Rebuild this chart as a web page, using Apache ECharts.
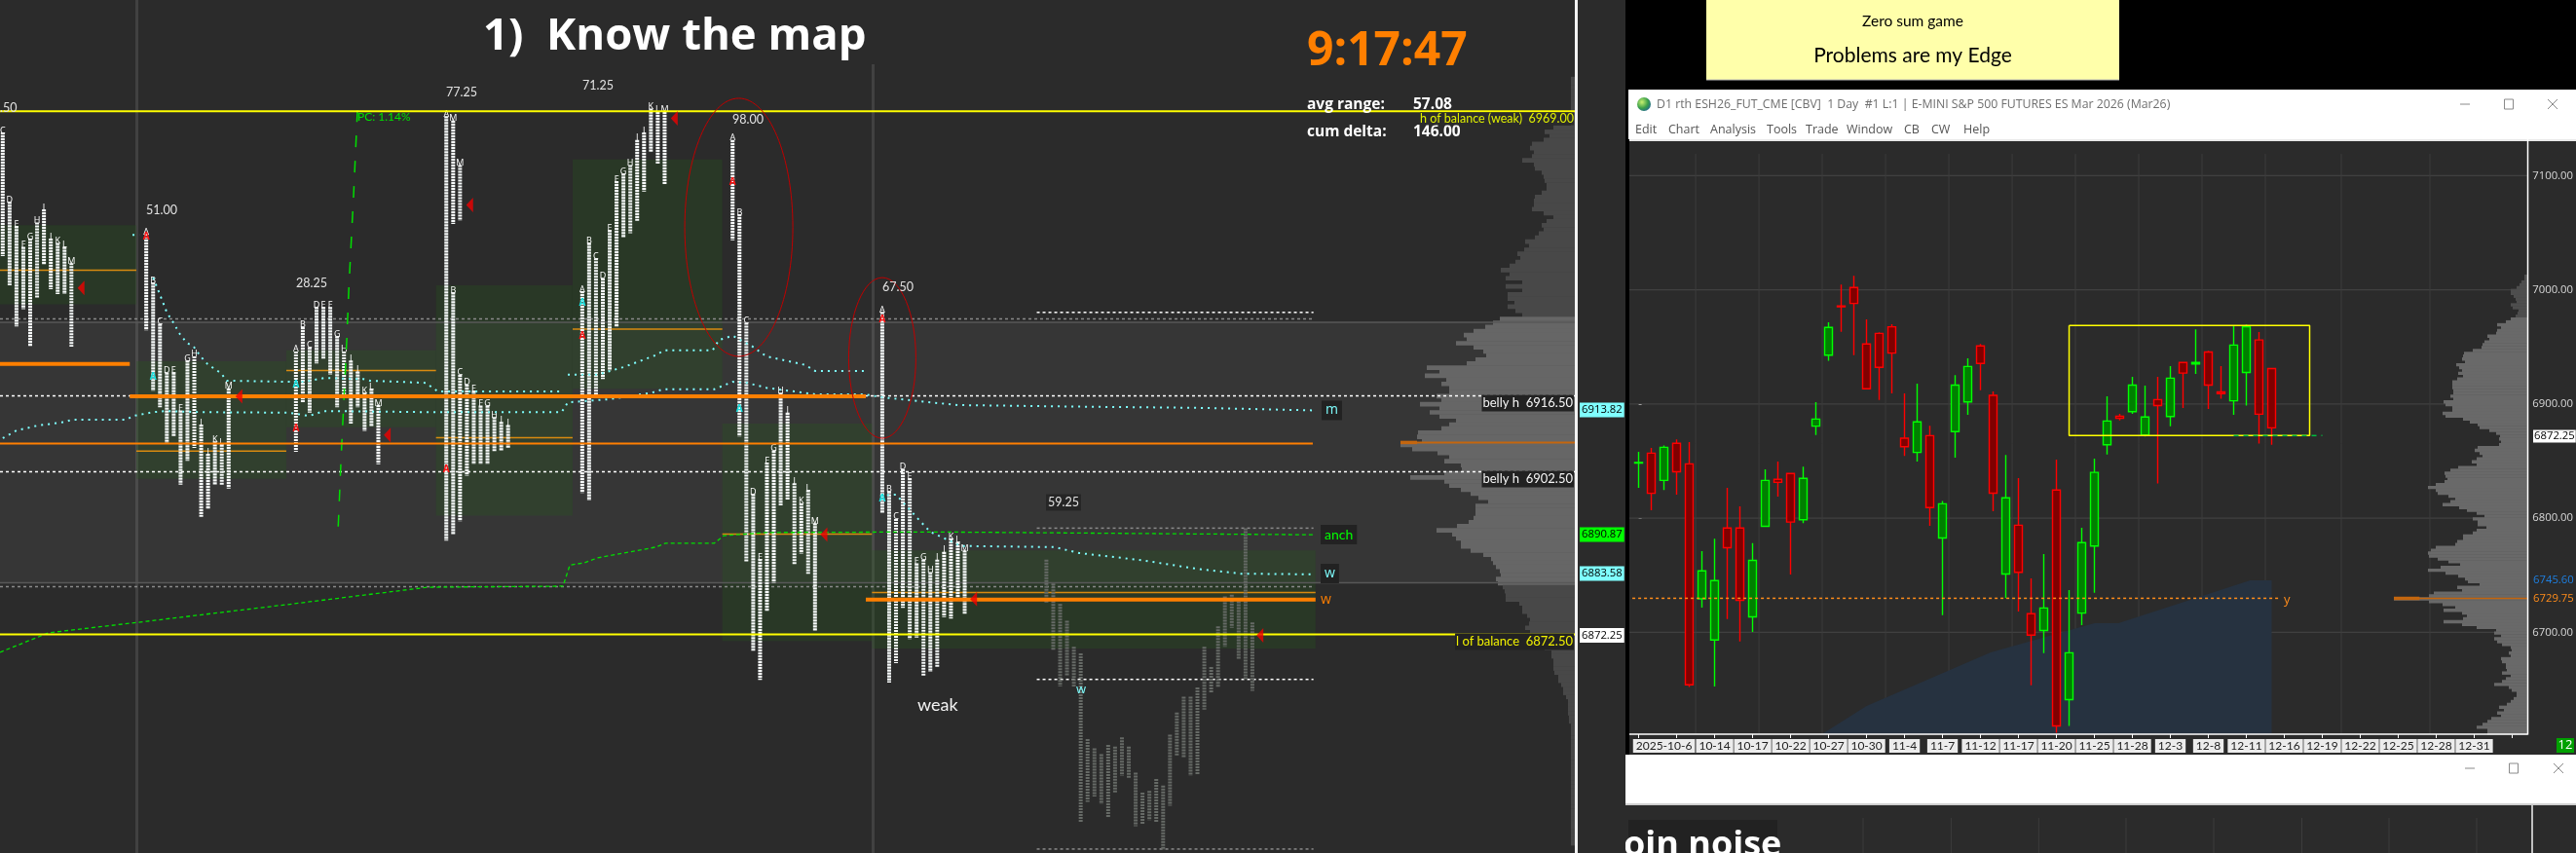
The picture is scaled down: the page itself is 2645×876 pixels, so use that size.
<!DOCTYPE html>
<html><head><meta charset="utf-8">
<style>html,body{margin:0;padding:0;background:#2b2b2b;overflow:hidden}#c{width:2645px;height:876px}</style>
<script src="https://cdn.jsdelivr.net/npm/echarts@6/dist/echarts.min.js"></script>
</head><body><div id="c"></div>
<script>
/* ---------- daily chart data ---------- */
const dateLabels=['2025-10-6','10-14','10-17','10-22','10-27','10-30','11-4','11-7','11-12','11-17','11-20','11-25','11-28','12-3','12-8','12-11','12-16','12-19','12-22','12-25','12-28','12-31'];
const dateLabelBars=[2,6,9,12,15,18,21,24,27,30,33,36,39,42,45,48,51,54,57,60,63,66];
const dailyOHLC=[ // open, close, low, high
[6848.1,6848.7,6826.5,6858],[6856.9,6821.7,6806.9,6861.5],[6833,6862,6824.5,6863.5],[6865.5,6840.5,6820.5,6869],
[6847.5,6654,6652,6866.5],[6729.25,6753.75,6721.5,6771],[6693.25,6745.25,6652.5,6782],[6791.25,6774,6711.5,6826.5],
[6791.25,6728,6692,6810.25],[6713.5,6763,6700.25,6778],[6792.75,6833,6792.75,6842.75],[6834,6831.25,6818.75,6849.5],
[6839,6796.5,6750.5,6839],[6798.5,6834.75,6795.5,6845],[6880.5,6886.75,6872.75,6901.5],[6942.75,6967,6937.75,6971.5],
[6985.75,6985,6963.25,7004.5],[7002,6988,6942.75,7012.25],[6952.5,6913.25,6913.25,6974],[6961.75,6932,6903.5,6962.75],
[6967.5,6944.5,6909.25,6969.75],[6870,6862.5,6854.5,6909.25],[6857.5,6884.25,6849.5,6917.75],[6872.25,6809.25,6793.25,6880.75],
[6782.5,6812.5,6715,6815],[6875.75,6916.5,6853,6925.25],[6901.75,6932.75,6890.5,6940],[6950.75,6935.5,6912,6952.5],
[6907.5,6821.75,6806,6911],[6751,6817.75,6730,6855.25],[6793.75,6752.5,6718.25,6835],[6716.25,6697.5,6653.5,6747.25],
[6701.5,6721.25,6681.75,6768.5],[6824.5,6618,6612,6851.25],[6641,6682,6618,6737],[6716.75,6778.5,6706.25,6791.5],
[6775.5,6840,6734.5,6852],[6864.25,6885,6855.75,6906.75],[6889.25,6887.5,6885.5,6891.25],[6893.25,6916.5,6891.25,6923.75],
[6872.75,6888.5,6871.5,6916],[6903.75,6898.5,6830.25,6923.75],[6889,6922.5,6880.5,6933],[6936.25,6927,6896.5,6936.25],
[6935,6936.25,6926.25,6965.25],[6945.5,6916.5,6895.5,6946.5],[6910.5,6909,6904.5,6933],[6902.75,6951.5,6890.5,6968],
[6927.5,6967.5,6898.5,6969.5],[6956,6891,6865.25,6963],[6931,6879,6864.25,6931.5]];
const dailyPriceTicks=[6700,6800,6900,7000,7100];
const dailyGridBars=[4.5,9.5,14.5,19.5,24.5,29.5,34.5,39.5,44.5,49.5,55.5,62.5];
const dailyAreaPts=[[14.5,6611],[18,6635.4],[27.8,6682.4],[36,6707.9],[37.9,6707.9],[48.3,6745.5],[50,6745.5],[50,6611]];
const balanceBoxPts=[[34,6968.75],[53,6968.75],[53,6872.25],[34,6872.25],[34,6968.75]];
const dailyProfileTop=7012, dailyProfileStep=2.5;
const dailyProfile=[3,3,6,8,11,17,17,14,12,11,17,15,9,10,12,17,22,31,27,31,32,41,39,44,46,47,56,65,66,67,64,73,70,67,71,66,72,77,77,77,76,76,79,76,86,84,77,77,87,84,66,59,51,49,39,32,28,29,27,29,51,54,49,46,52,57,52,71,79,85,84,82,85,94,102,94,92,81,
74,79,87,70,62,52,44,56,51,51,42,52,56,66,66,72,74,94,99,102,101,92,81,69,89,102,84,71,64,61,49,72,67,96,101,137,101,87,74,86,67,62,66,86,67,52,32,34,27,34,31,26,17,16,19,17,27,26,22,22,21,26,17,22,26,34,19,16,11,11,14,17,21,29,24,31,27,37,41,46,52,41,41];

/* ---------- intraday market-profile data (price per column) ---------- */
const sessionStarts=[0.4,21.3,43.1,65,84.8,106.7,128.5,152.4];
const s1Cols=[[6942.3,6965.1],[6936.9,6952.3],[6929.3,6947.8],[6932.5,6944],[6925.6,6945.5],[6934.6,6948.5],[6940.7,6950.9],[6936.2,6945.5],[6935.3,6944.7],[6935.3,6944],[6925.6,6941]];
const s2Cols=[[6928.6,6946.4],[6917.4,6937.4],[6914.4,6929.8],[6907.8,6920.8],[6909,6920.8],[6900.1,6913.8],[6904.5,6923],[6906.9,6923.8],[6894.2,6911.2],[6895.6,6905.8],[6900.1,6908.1],[6900.1,6907.5],[6899.4,6917.9]];
const s3Cols=[[6906.2,6924.7],[6915.3,6929.2],[6913.4,6925.5],[6922.5,6932.9],[6923.4,6932.9],[6920.4,6932.9],[6914.4,6927.5],[6916.5,6924.7],[6911.4,6923],[6914.4,6921],[6910,6917.1],[6910.8,6917.8],[6903.9,6914.8]];
const s4Cols=[[6889.8,6968.1],[6891,6935.6],[6893.4,6920.4],[6901.8,6918.6],[6903.9,6917.4],[6903.9,6914.7],[6903.9,6914.7],[6906.3,6912.6],[6906.3,6911.7],[6906.9,6911.1]];
const s4Upper=[[1,6948.2,6967.3],[2,6948.8,6959.1]];
const s5Cols=[[6898.6,6935.8],[6897.2,6944.7],[6916.6,6941.9],[6919.6,6938.2],[6921.2,6947.1],[6929.3,6956.1],[6945.8,6957.5],[6946.5,6959.1],[6948.8,6963.7],[6954.2,6965.1],[6961.5,6969.5],[6959.3,6968.9],[6955.5,6968.9]];
const s6Cols=[[6945.2,6963.7],[6909,6950],[6885.9,6930],[6869.5,6898.4],[6864.1,6886.4],[6876.7,6904.2],[6882,6906.4],[6896.3,6917.1],[6897.3,6913.4],[6885.3,6900.4],[6887.4,6896.7],[6883.7,6899.1],[6873.1,6893]];
const s7Cols=[[6894.8,6932],[6863.6,6898.9],[6867.2,6893.8],[6877.4,6903],[6871.6,6901.3],[6871.9,6885.6],[6864.9,6886.3],[6865.6,6884],[6866.5,6886.3],[6875.7,6887.7],[6875.4,6890.2],[6879.1,6889.5],[6876.3,6888]];
const s8Cols=[[6878.4,6886.3],[6869.6,6881.9],[6862.9,6878.1],[6864.8,6875],[6862.9,6870.2],[6837.9,6869],[6841.6,6853.2],[6842.6,6851.5],[6841.2,6850.4],[6838.8,6852.1],[6843.3,6851.8],[6846.4,6853.5],[6846,6851.8],[6837.1,6847],[6837.5,6843.3],[6838.2,6843.6],[6837.8,6845.8],[6832.7,6844.6],[6840.9,6854],[6850.1,6858.1],[6849.8,6861],[6846.4,6861],[6846.7,6862.7],[6858.6,6870.2],[6861.7,6866.5],[6862.7,6874],[6870.2,6879.5],[6873.7,6879.8],[6867.9,6878.6],[6864.1,6892.1],[6862.1,6874.7]];
const leftProfileTop=6975, leftProfileStep=0.75;
const leftProfile=[4,4,4,4,4,4,4,4,4,4,4,4,22,31,26,32,44,46,42,44,54,42,41,34,32,31,29,29,34,41,42,42,44,32,22,29,34,32,37,41,51,47,52,59,56,61,67,76,67,71,54,71,54,69,69,62,69,61,54,
77,84,92,104,114,111,122,104,94,91,102,111,152,139,154,132,137,129,129,142,137,159,139,149,139,122,129,137,161,162,157,179,167,141,129,134,117,116,134,169,
134,129,117,107,99,89,102,102,102,104,109,121,142,126,122,117,117,107,94,86,84,81,77,76,81,79,74,72,71,71,57,54,54,49,46,47,51,46,41,36,31,31,24,24,22,22,22,21,17,17,14,12,12,9,7,7,7,7,6,6,4,4,4,4,4,4,4,4,4,4,4,4,4,4,4,4,4,4,4,4,4,4,4,4,4,4,4,4,4,4];
const valueBand=[[0,229.4,6882,6930.08]];
const sessionBoxes=[[0,19.86,6933.4,6948],[19.86,41.7,6901.2,6922.9],[41.7,63.5,6910.7,6924.9],[63.5,83.4,6894.4,6936.9],[83.4,105.2,6917.8,6960.1],[105.2,127,6871.3,6911.4],[127,191.6,6869.9,6888]];
const sessionPOC=[[0,19.86,6939.7],[19.86,41.7,6906.3],[41.7,63.5,6921.2],[63.5,83.4,6908.8],[83.4,105.2,6928.8],[105.2,127,6891],[127,191.6,6880.2]];
const thickOrange=[[0,18.9,6922.4],[18.9,126.1,6916.4],[126.1,191.6,6878.9]];
const thinOrange=[[0,191.2,6907.7]];
const yellowLevels=[[0,229.4,6969],[0,229.4,6872.5]];
const bellyLevels=[[0,229.4,6916.5],[0,229.4,6902.5],[151,191.3,6931.9],[151,191.3,6864.2]];
const greyDashLevels=[[0,191.2,6930.7],[0,191.2,6881.3],[151,191.3,6892.1],[151,191.3,6832.9]];
const vwapLower=[[0.4,6908.7],[2.4,6910.1],[5.4,6911],[9.5,6911.7],[10.4,6912.1],[18.4,6912.1],[19.4,6912.8],[22.3,6913.5],[24.1,6913.7],[29.4,6913.5],[42.1,6913.4],[45,6912.8],[47.2,6913.7],[62.8,6913.5],[81.8,6913.5],[82.7,6915.3],[88.9,6915.9],[95,6917.1],[96.5,6917.7],[104,6917.7],[106.7,6919.1],[108.8,6918.9],[111.6,6918],[118.7,6916.8],[125.8,6916.8],[128.7,6916.2],[135.5,6915.3],[139.6,6914.8],[158.1,6914.5],[174.3,6914.3],[191.5,6913.82]];
const vwapUpperA=[[19.3,6946.2],[20.3,6946.2]];
const vwapUpperB=[[22.3,6938.3],[23.1,6935.8],[24.3,6931.9],[25.2,6930.1],[26.2,6927.9],[27.2,6926.3],[28.2,6925.6],[29.2,6923.8],[30.2,6922.4],[31.2,6921.5],[32.2,6920.7],[33,6919.3],[42.1,6919.1],[44.3,6919.1],[47.2,6919.8],[52.9,6919.6],[53.9,6919.3],[62,6918.9],[63.8,6917.3],[82,6917.3]];
const vwapUpperC=[[82.7,6920.4],[87,6920.4],[90.8,6921.8],[95.5,6924],[96.7,6924.9],[103.8,6924.9],[104.7,6926.8],[106.7,6927.6],[109.6,6925.6],[111.6,6923.8],[117.3,6922.2],[118.7,6921.1],[125.8,6921.1]];
const weeklyVwap=[[128.2,6898.1],[130.5,6898.3],[133.5,6894.1],[135.5,6891.4],[140,6888.8],[153.6,6888.6],[157.2,6887.5],[166.2,6886.2],[174.3,6884.6],[180.7,6883.7],[191.5,6883.58]];
const anchoredVwap=[[0,6869.2],[7.1,6872.8],[21.3,6874.9],[41.8,6878],[62.3,6881.2],[82,6881.4],[83,6885.3],[85.1,6885.7],[87,6886.6],[95.5,6888.6],[96.9,6889.3],[104,6889.3],[105.4,6890.7],[111.6,6891.3],[136.2,6891.4],[191.5,6890.87]];
const pcLine=[[52.06,6969.2],[51.5,6953.6],[50.8,6936.2],[50.5,6926.7],[49.7,6905.6],[49.2,6890.7]];
const closeMarks=[[11.8,6936.4],[34.8,6916.4],[56.4,6909.3],[68.4,6951.7],[98.2,6967.7],[120,6890.9],[141.8,6879],[183.5,6872.3]];
const openMarks=[[21.3,6945.8],[43.1,6910.4],[65,6903],[84.8,6927.6],[106.7,6956],[128.5,6930.6]];
const midMarks=[[22.3,6920],[43.1,6918.6],[84.8,6933.7],[107.7,6914.1],[128.5,6897.6]];
const ellipses=[[107.6,6947.6,7.87,23.8],[128.5,6923.5,4.89,14.82]];

/* ---------- layout ---------- */
const W=1617, SLOT=7.05;
const LEFT_MIN=6832.17, LEFT_MAX=6989.53;
const D_MIN=6600, D_MAX=7200, D_TOP=63.05, D_H=703.5, BAR=13, D_LEFT=1676.1;
const bg='#2b2b2b';
const FONT='"Open Sans","Noto Sans",sans-serif';
const NARROW='Lato,"Open Sans",sans-serif';

const LETTERS='ABCDEFGHIJKLM';
function flatten(cols,start,first,kind){return cols.map((c,i)=>[start+i,c[0],c[1],first<0?'':LETTERS[first+i]||'',kind]);}
const tpoMain=[].concat(
  flatten(s1Cols,sessionStarts[0],2,0),flatten(s2Cols,sessionStarts[1],0,0),flatten(s3Cols,sessionStarts[2],0,0),
  flatten(s4Cols,sessionStarts[3],0,0),s4Upper.map(u=>[sessionStarts[3]+u[0],u[1],u[2],'M',0]),
  flatten(s5Cols,sessionStarts[4],0,0),flatten(s6Cols,sessionStarts[5],0,0),flatten(s7Cols,sessionStarts[6],0,0));
const tpoFaded=flatten(s8Cols,sessionStarts[7],-1,1);

function seg(name,data,xi,yi,style,z){
  return {type:'custom',name,xAxisIndex:xi,yAxisIndex:yi,z:z||3,silent:true,clip:true,data,
    renderItem(p,api){const a=api.coord([api.value(0),api.value(2)]),b=api.coord([api.value(1),api.value(2)]);
      return {type:'line',shape:{x1:a[0],y1:a[1],x2:b[0],y2:b[1]},style:Object.assign({fill:null},style)};}};
}
function rects(name,data,color,z){
  return {type:'custom',name,xAxisIndex:0,yAxisIndex:0,z:z||1,silent:true,data,
    renderItem(p,api){const a=api.coord([api.value(0),api.value(3)]),b=api.coord([api.value(1),api.value(2)]);
      return {type:'rect',shape:{x:a[0],y:a[1],width:b[0]-a[0],height:b[1]-a[1]},style:{fill:color}};}};
}
function tpoSeries(name,list,color,width,dash,textColor){
  return {type:'custom',name,xAxisIndex:0,yAxisIndex:0,z:5,silent:true,data:list.map(d=>[d[0],d[1],d[2]]),
    renderItem(p,api){const d=list[p.dataIndex],a=api.coord([d[0],d[2]]),b=api.coord([d[0],d[1]]);
      const kids=[{type:'line',shape:{x1:a[0],y1:a[1],x2:b[0],y2:b[1]},style:{stroke:color,lineWidth:width,lineDash:dash,fill:null}}];
      if(d[3])kids.push({type:'text',x:a[0],y:a[1]-2,style:{text:d[3],fill:textColor,font:'9px '+FONT,textAlign:'center',textVerticalAlign:'middle'}});
      return {type:'group',children:kids};}};
}
function dotted(name,data,color,width,dash){
  return {type:'line',name,xAxisIndex:0,yAxisIndex:0,data,z:6,silent:true,showSymbol:false,symbol:'none',
    lineStyle:{color,width,type:dash,cap:'butt'}};
}
function textMarks(name,data,text,color){
  return {type:'custom',name,xAxisIndex:0,yAxisIndex:0,z:7,silent:true,data,
    renderItem(p,api){const a=api.coord([api.value(0),api.value(1)]);
      return {type:'text',x:a[0],y:a[1],style:{text,fill:color,font:'bold 10px '+FONT,textAlign:'center',textVerticalAlign:'middle'}};}};
}
function profile(name,list,top,step,xi,yi,loLight,hiLight,dark,light){
  const rows=list.map((w,i)=>[w,top-step*i]);
  return {type:'custom',name,xAxisIndex:xi,yAxisIndex:yi,z:2,silent:true,data:rows,
    renderItem(p,api){const w=api.value(0),pr=api.value(1);
      const a=api.coord([w,pr+step/2]),b=api.coord([0,pr-step/2]);
      return {type:'rect',shape:{x:a[0],y:a[1],width:b[0]-a[0],height:b[1]-a[1]+0.5},
        style:{fill:(pr<=hiLight&&pr>=loLight)?light:dark}};}};
}

/* ---------- fixed screen furniture and text ---------- */
const els=[];
function R(x,y,w,h,fill,z){els.push({type:'rect',silent:true,z:z==null?-50:z,shape:{x,y,width:w,height:h},style:{fill}});}
function L(x1,y1,x2,y2,stroke,lw,z){els.push({type:'line',silent:true,z:z==null?60:z,shape:{x1,y1,x2,y2},style:{stroke,lineWidth:lw||1}});}
function T(text,x,y,size,fill,o){o=o||{};els.push({type:'text',silent:true,z:o.z||70,x,y,style:Object.assign({text,fill,font:(o.weight||'normal')+' '+size+'px '+(o.family||FONT),textAlign:o.align||'left',textVerticalAlign:'middle'},o.bg?{backgroundColor:o.bg,padding:o.pad||[1,3]}:{})});}

R(0,0,1617,876,bg,-100);
R(1617,0,3,876,'#f2f2f2',-40);
R(1620,0,49,876,bg,-45);
R(1669,0,976,92,'#000',-45);
R(1669,92,4,683,'#000',-45);
R(1752,0,424,82,'#ffffaa',-40);
L(1752,82,2176,82,'#bdbdbd',1);
T('Zero sum game',1964,22,15.5,'#000',{align:'center',family:NARROW});
T('Problems are my Edge',1964,57,21,'#000',{align:'center',family:NARROW});
R(1672,92,973,51,'#ffffff',-40);
R(1673,143,972,632,bg,-45);
R(1673,143,972,2,'#e8e8e8',-30);
els.push({type:'circle',silent:true,z:60,shape:{cx:1688,cy:107,r:7},style:{fill:{type:'radial',x:0.35,y:0.35,r:0.8,colorStops:[{offset:0,color:'#c8f070'},{offset:0.55,color:'#3a9f4a'},{offset:1,color:'#1f5f9f'}]}}});
T('D1 rth ESH26_FUT_CME [CBV]  1 Day  #1 L:1 | E-MINI S&P 500 FUTURES ES Mar 2026 (Mar26)',1701,107,12.3,'#6e6e6e');
[['Edit',1679],['Chart',1713],['Analysis',1756],['Tools',1814],['Trade',1854],['Window',1896],['CB',1955],['CW',1983],['Help',2016]].forEach(m=>T(m[0],m[1],133,12.5,'#555'));
function winBtns(a,b,c,y){L(a-5,y,a+5,y,'#8a8a8a',1);els.push({type:'rect',silent:true,z:60,shape:{x:b-4.5,y:y-5,width:9,height:10},style:{fill:null,stroke:'#8a8a8a',lineWidth:1}});L(c-5,y-5,c+5,y+5,'#8a8a8a',1);L(c-5,y+5,c+5,y-5,'#8a8a8a',1);}
winBtns(2531,2576,2621,107);
// second window
R(1669,775,976,50,'#ffffff',40);
R(1669,825,976,51,bg,40);
R(1669,825,976,2,'#cfcfcf',41);
winBtns(2536,2581,2627,789);
[1913,2003.6,2093.4,2183,2273,2363.5,2453,2543].forEach(x=>L(x,840,x,876,'#3c3c3c',1,42));
L(2600,827,2600,876,'#f2f2f2',1.5,42);
R(1672,842,153,34,'#222222',42);
T('oin noise',1667,869,36,'#ffffff',{weight:'bold',z:43});
R(1620,776,49,100,bg,44);
// daily frame
L(1673,754,2595.5,754,'#ffffff',1.5,30);
L(2595.5,143,2595.5,754.5,'#ffffff',1.5,30);
R(2625,758,18,15,'#00a000',30);
T('12',2634,765.5,13,'#fff',{align:'center'});
T('6872.25',2601,448,11.3,'#000',{bg:'#fff',pad:[1,1]});
T('6745.60',2601,595.7,11.3,'#1e7fe0');
T('6729.75',2601,615,11.3,'#ff8c1a');
T('y',2345,616,13,'#ff8c1a');
// left chart lines
R(139,0,3,876,'#414141',0);
R(895,66,3,810,'#414141',0);
// left chart text
T('1)  Know the map',496,38,45.5,'#ffffff',{weight:'bold'});
T('9:17:47',1342,53,48,'#ff7f00',{weight:'bold'});
T('avg range:',1342,108,15.5,'#ffffff',{weight:'bold'});
T('57.08',1451,108,15.5,'#ffffff',{weight:'bold'});
T('cum delta:',1342,136,15.5,'#ffffff',{weight:'bold'});
T('146.00',1451,136,15.5,'#ffffff',{weight:'bold'});
T('h of balance (weak)  6969.00',1616,122,12.5,'#e0f000',{align:'right',bg:bg,pad:[0,0],family:NARROW});
[['51.00',150,216],['28.25',304,291],['77.25',458,95],['71.25',598,88],['98.00',752,123],['67.50',906,295],['.50',0,111]].forEach(a=>T(a[0],a[1],a[2],12.5,'#e2e2e2',{family:NARROW}));
T('59.25',1074,516,12.5,'#e2e2e2',{bg:'#262626',pad:[2,2],family:NARROW});
T('weak',942,724,18,'#f2f2f2',{family:NARROW});
T('belly h  6916.50',1616,414,13,'#f4f4f4',{align:'right',bg:'#222',pad:[2,1],family:NARROW});
T('belly h  6902.50',1616,492,13,'#f4f4f4',{align:'right',bg:'#222',pad:[2,1],family:NARROW});
T('l of balance  6872.50',1616,659,13,'#f0f000',{align:'right',bg:'#222',pad:[2,1],family:NARROW});
T('m',1357,421.5,14,'#7fffff',{bg:'#222',pad:[3,4]});
T('anch',1356,549,14,'#00ff00',{bg:'#222',pad:[3,4],family:NARROW});
T('w',1356,589,14,'#7fffff',{bg:'#222',pad:[3,4]});
T('w',1356,616,14,'#ff7f00');
T('w',1105,708,13,'#7fffff');
T('PC: 1.14%',367,120,12,'#00e000',{family:NARROW});
T('6913.82',1622,421,11.3,'#000',{bg:'#7fffff',pad:[2,2]});
T('6890.87',1622,549,11.3,'#000',{bg:'#00ff00',pad:[2,2]});
T('6883.58',1622,589,11.3,'#000',{bg:'#7fffff',pad:[2,2]});
T('6872.25',1622,652.6,11.3,'#000',{bg:'#ffffff',pad:[2,2]});

/* ---------- chart ---------- */
const barLabel={};dateLabelBars.forEach((b,i)=>barLabel[b]=dateLabels[i]);
const categories=Array.from({length:70},(_,i)=>'b'+i);
const hidden={show:false};
const option={
  animation:false,backgroundColor:'transparent',
  graphic:{elements:els},
  grid:[
    {left:0,top:0,width:W,height:876},
    {left:W-200,top:0,width:200,height:876},
    {left:D_LEFT,top:D_TOP,width:BAR*70,height:D_H},
    {left:2595-160,top:D_TOP,width:160,height:D_H}
  ],
  xAxis:[
    Object.assign({type:'value',gridIndex:0,min:0,max:W/SLOT},hidden),
    Object.assign({type:'value',gridIndex:1,min:0,max:200,inverse:true},hidden),
    {type:'category',gridIndex:2,data:categories,offset:-12.55,boundaryGap:true,
      axisLine:{show:false},
      axisTick:{show:true,alignWithLabel:true,length:4,interval:i=>i%3===0,lineStyle:{color:'#fff',width:1}},
      splitLine:{show:false},
      axisLabel:{show:true,interval:i=>barLabel[i]!=null,formatter:(v,i)=>barLabel[i]||'',color:'#222',backgroundColor:'#ececec',
        padding:[1,3],margin:5,fontSize:12,fontFamily:NARROW,hideOverlap:false}},
    Object.assign({type:'value',gridIndex:2,min:-0.5,max:69.5},hidden),
    Object.assign({type:'value',gridIndex:3,min:0,max:160,inverse:true},hidden)
  ],
  yAxis:[
    Object.assign({type:'value',gridIndex:0,min:LEFT_MIN,max:LEFT_MAX},hidden),
    Object.assign({type:'value',gridIndex:1,min:LEFT_MIN,max:LEFT_MAX},hidden),
    {type:'value',gridIndex:2,min:D_MIN,max:D_MAX,interval:100,position:'right',offset:9.3,scale:true,
      axisLine:{show:false},splitLine:{show:false},
      axisTick:{show:true,length:3,customValues:dailyPriceTicks,lineStyle:{color:'#fff'}},
      axisLabel:{customValues:dailyPriceTicks,formatter:v=>v.toFixed(2),color:'#d8d8d8',fontSize:11.3,fontFamily:FONT,margin:5}},
    Object.assign({type:'value',gridIndex:3,min:D_MIN,max:D_MAX},hidden)
  ],
  series:[
    rects('value band',valueBand,'rgba(255,255,255,0.055)',0),
    rects('session value area',sessionBoxes,'rgba(35,95,25,0.25)',1),
    profile('session profile',leftProfile,leftProfileTop,leftProfileStep,1,1,6881.3,6930.85,'#484848','#666666'),
    seg('band top',[[0,229.4,6930.08],[0,229.4,6882]],0,0,{stroke:'#585858',lineWidth:1.5},2),
    seg('POC session',sessionPOC,0,0,{stroke:'#d98a10',lineWidth:1.5},3),
    seg('belly',bellyLevels,0,0,{stroke:'#ffffff',lineWidth:1.5,lineDash:[3,3]},3),
    seg('grey levels',greyDashLevels,0,0,{stroke:'#8a8a8a',lineWidth:1.5,lineDash:[3,3]},3),
    tpoSeries('TPO faded',tpoFaded,'#666a66',4,[2,1],'#777'),
    tpoSeries('TPO',tpoMain,'#f8fbfb',4,[2.2,0.8],'#ffffff'),
    seg('thin orange',thinOrange,0,0,{stroke:'#ff7f00',lineWidth:2},8),
    seg('thick orange',thickOrange,0,0,{stroke:'#ff7f00',lineWidth:4},8),
    seg('profile POC thin',[[0,179,6907.9]],1,1,{stroke:'#c4660e',lineWidth:2},8),
    seg('profile POC thick',[[162,179,6907.9]],1,1,{stroke:'#c4660e',lineWidth:3.5},8),
    seg('balance',yellowLevels,0,0,{stroke:'#ffff00',lineWidth:2},8),
    dotted('vwap lower',vwapLower,'#7fffff',2,[2,5]),
    dotted('vwap a',vwapUpperA,'#7fffff',2,[2,5]),
    dotted('vwap b',vwapUpperB,'#7fffff',2,[2,5]),
    dotted('vwap c',vwapUpperC,'#7fffff',2,[2,5]),
    dotted('vwap w',weeklyVwap,'#7fffff',2,[2,5]),
    dotted('anchor',anchoredVwap,'#00e000',1.3,[4,3]),
    dotted('PC',pcLine,'#00e000',1.5,[12,14]),
    textMarks('open',openMarks,'A','#ff1010'),
    textMarks('mid',midMarks,'A','#19e0e0'),
    {type:'scatter',name:'close',xAxisIndex:0,yAxisIndex:0,z:9,silent:true,symbol:'triangle',symbolSize:[15,7],symbolRotate:90,itemStyle:{color:'#f00000'},data:closeMarks},
    {type:'custom',name:'ellipses',xAxisIndex:0,yAxisIndex:0,z:9,silent:true,data:ellipses,
      renderItem(p,api){const c=api.coord([api.value(0),api.value(1)]),e=api.coord([api.value(0)+api.value(2),api.value(1)+api.value(3)]);
        return {type:'ellipse',shape:{cx:c[0],cy:c[1],rx:e[0]-c[0],ry:c[1]-e[1]},style:{fill:null,stroke:'#c00000',lineWidth:1}};}},

    // daily chart
    {type:'custom',name:'daily h grid',xAxisIndex:3,yAxisIndex:2,z:1,silent:true,clip:false,data:dailyPriceTicks.map(p=>[0,p]),
      renderItem(p,api){const y=api.coord([0,api.value(1)])[1];
        return {type:'line',shape:{x1:1673,y1:y,x2:2595,y2:y},style:{stroke:'#404040',lineWidth:1.3}};}},
    {type:'custom',name:'daily v grid',xAxisIndex:3,yAxisIndex:2,z:1,silent:true,data:dailyGridBars.map(b=>[b,6611,7119]),
      renderItem(p,api){const a=api.coord([api.value(0),api.value(2)]),b=api.coord([api.value(0),api.value(1)]);
        return {type:'line',shape:{x1:a[0],y1:a[1],x2:b[0],y2:b[1]},style:{stroke:'#3c3c3c',lineWidth:1}};}},
    {type:'line',name:'cum area',xAxisIndex:3,yAxisIndex:2,z:1,silent:true,data:dailyAreaPts,showSymbol:false,symbol:'none',
      lineStyle:{width:0},areaStyle:{color:'#263240',opacity:1,origin:6611}},
    profile('daily profile',dailyProfile,dailyProfileTop,dailyProfileStep,4,3,0,6976.5,'#4e4e4e','#696969'),
    seg('daily poc thin',[[0,137,6729.75]],4,3,{stroke:'#c4660e',lineWidth:1.5},4),
    seg('daily poc thick',[[110.7,137,6729.75]],4,3,{stroke:'#c4660e',lineWidth:3.5},4),
    seg('y line',[[-0.5,50.6,6729.75]],3,2,{stroke:'#ff8c1a',lineWidth:1.5,lineDash:[3,3]},6),
    {type:'candlestick',name:'daily',xAxisIndex:2,yAxisIndex:2,z:4,silent:true,barWidth:9,data:dailyOHLC,
      itemStyle:{color:'#008000',color0:'#800000',borderColor:'#00ff00',borderColor0:'#ff0000',borderWidth:1.4}},
    {type:'line',name:'balance box',xAxisIndex:3,yAxisIndex:2,z:5,silent:true,data:balanceBoxPts,showSymbol:false,symbol:'none',
      lineStyle:{color:'#ffff00',width:1.5}},
    seg('box tail',[[47,54,6872.25]],3,2,{stroke:'#00c040',lineWidth:1.5,lineDash:[5,5]},6)
  ]
};
echarts.init(document.getElementById('c'),null,{renderer:'canvas'}).setOption(option);
</script></body></html>
